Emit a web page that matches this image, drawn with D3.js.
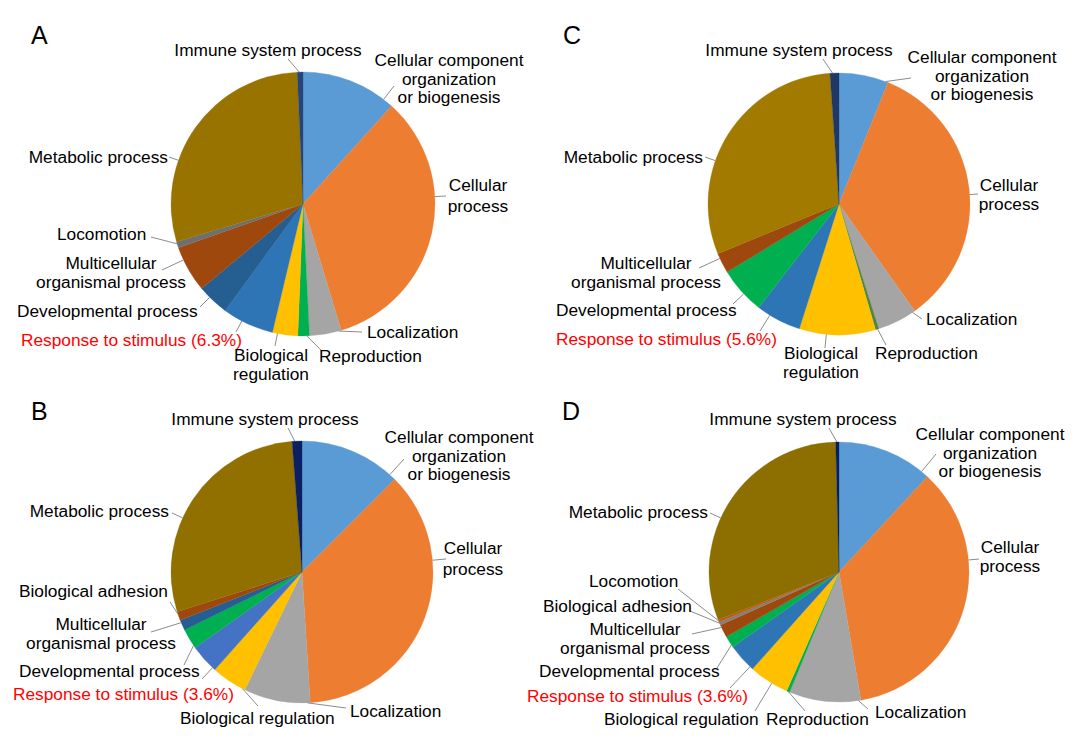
<!DOCTYPE html>
<html><head><meta charset="utf-8">
<script src="https://cdn.jsdelivr.net/npm/d3@7"></script>
<style>body{margin:0;background:#fff} text{font-family:"Liberation Sans",Arial,sans-serif}</style>
</head><body>
<svg id="chart" width="1081" height="739"></svg>
<script>
// ---------------- DATA ----------------
const categoriesA = ["Cellular component organization or biogenesis","Cellular process","Localization","Reproduction","Biological regulation","Response to stimulus","Developmental process","Multicellular organismal process","Locomotion","Metabolic process","Immune system process"];
const valuesA = [11.7, 33.6, 3.9, 1.4, 3.1, 6.3, 3.9, 5.7, 0.75, 28.9, 0.7];

const categoriesB = ["Cellular component organization or biogenesis","Cellular process","Localization","Biological regulation","Response to stimulus","Developmental process","Multicellular organismal process","Biological adhesion","Metabolic process","Immune system process"];
const valuesB = [12.5, 36.5, 8.2, 4.4, 3.6, 2.5, 1.3, 1.1, 28.7, 1.2];

const categoriesC = ["Cellular component organization or biogenesis","Cellular process","Localization","Reproduction","Biological regulation","Response to stimulus","Developmental process","Multicellular organismal process","Metabolic process","Immune system process"];
const valuesC = [6.1, 34.1, 4.9, 0.4, 9.4, 5.6, 5.8, 2.5, 30.1, 1.1];

const categoriesD = ["Cellular component organization or biogenesis","Cellular process","Localization","Reproduction","Biological regulation","Response to stimulus","Developmental process","Multicellular organismal process","Biological adhesion","Locomotion","Metabolic process","Immune system process"];
const valuesD = [11.9, 35.4, 8.9, 0.4, 5.0, 3.6, 1.5, 1.6, 0.4, 0.3, 30.6, 0.4];

const panelLetters = ["A","B","C","D"];

// ---------------- STYLES ----------------
const colorsA = ["#5B9BD5","#ED7D31","#A5A5A5","#00B050","#FFC000","#2E75B6","#255E91","#9E480E","#6F6F6F","#997300","#264478"];
const colorsB = ["#5B9BD5","#ED7D31","#A5A5A5","#FFC000","#4472C4","#00B050","#255E91","#9E480E","#917000","#0A2060"];
const colorsC = ["#5B9BD5","#ED7D31","#A5A5A5","#4E8542","#FFC000","#2E75B6","#00B050","#9E480E","#A37A00","#203864"];
const colorsD = ["#5B9BD5","#ED7D31","#A5A5A5","#00B050","#FFC000","#2E75B6","#00B050","#9E480E","#7F7F7F","#C55A11","#8D6E00","#002060"];

// ---------------- LAYOUT ----------------
// label: lines, x, y (first baseline), anchor, lh (line height), lx/ly leader start
const LH = 18.5;
const layoutA = {cx:303, cy:204, r:132, letter:{x:31, y:44}, labels:[
  {lines:["Cellular component","organization","or biogenesis"], x:449, y:66, a:"middle", lh:LH, lx:394, ly:86},
  {lines:["Cellular","process"], x:478, y:191, a:"middle", lh:21, lx:446, ly:196},
  {lines:["Localization"], x:367, y:338, a:"start", lx:362, ly:332},
  {lines:["Reproduction"], x:319, y:362, a:"start", lx:321, ly:350},
  {lines:["Biological","regulation"], x:271, y:361, a:"middle", lh:LH, lx:275, ly:346},
  {lines:["Response to stimulus (6.3%)"], x:21, y:346, a:"start", lx:236, ly:332, red:true},
  {lines:["Developmental process"], x:17, y:317, a:"start", lx:200, ly:307},
  {lines:["Multicellular","organismal process"], x:111, y:269, a:"middle", lh:LH, lx:162, ly:270},
  {lines:["Locomotion"], x:57, y:240, a:"start", lx:151, ly:237},
  {lines:["Metabolic process"], x:168, y:163, a:"end", lx:169, ly:157},
  {lines:["Immune system process"], x:268, y:56, a:"middle", lx:288, ly:59}
]};
const layoutB = {cx:302, cy:572, r:131, letter:{x:31, y:420}, labels:[
  {lines:["Cellular component","organization","or biogenesis"], x:459, y:443, a:"middle", lh:LH, lx:404, ly:459},
  {lines:["Cellular","process"], x:473, y:554, a:"middle", lh:21, lx:446, ly:559},
  {lines:["Localization"], x:350, y:717, a:"start", lx:346, ly:708},
  {lines:["Biological regulation"], x:180, y:724, a:"start", lx:258, ly:706},
  {lines:["Response to stimulus (3.6%)"], x:13, y:700, a:"start", lx:202, ly:679, red:true},
  {lines:["Developmental process"], x:19, y:677, a:"start", lx:184, ly:665},
  {lines:["Multicellular","organismal process"], x:101, y:630, a:"middle", lh:LH, lx:151, ly:632},
  {lines:["Biological adhesion"], x:19, y:597, a:"start", lx:170, ly:602},
  {lines:["Metabolic process"], x:169, y:517, a:"end", lx:172, ly:513},
  {lines:["Immune system process"], x:265, y:425, a:"middle", lx:288, ly:428}
]};
const layoutC = {cx:839, cy:204, r:131, letter:{x:563, y:44}, labels:[
  {lines:["Cellular component","organization","or biogenesis"], x:982, y:63, a:"middle", lh:LH, lx:911, ly:78},
  {lines:["Cellular","process"], x:1009, y:191, a:"middle", lh:LH, lx:978, ly:194},
  {lines:["Localization"], x:926, y:325, a:"start", lx:922, ly:319},
  {lines:["Reproduction"], x:875, y:359, a:"start", lx:886, ly:345},
  {lines:["Biological","regulation"], x:821, y:359, a:"middle", lh:LH, lx:825, ly:348},
  {lines:["Response to stimulus (5.6%)"], x:556, y:345, a:"start", lx:760, ly:331, red:true},
  {lines:["Developmental process"], x:556, y:316, a:"start", lx:733, ly:304},
  {lines:["Multicellular","organismal process"], x:646, y:269, a:"middle", lh:LH, lx:699, ly:268},
  {lines:["Metabolic process"], x:703, y:163, a:"end", lx:705, ly:157},
  {lines:["Immune system process"], x:799, y:56, a:"middle", lx:823, ly:59}
]};
const layoutD = {cx:839, cy:572, r:130, letter:{x:562, y:420}, labels:[
  {lines:["Cellular component","organization","or biogenesis"], x:990, y:440, a:"middle", lh:LH, lx:936, ly:454},
  {lines:["Cellular","process"], x:1010, y:553, a:"middle", lh:LH, lx:979, ly:559},
  {lines:["Localization"], x:875, y:718, a:"start", lx:868, ly:709},
  {lines:["Reproduction"], x:766, y:725, a:"start", lx:805, ly:711},
  {lines:["Biological regulation"], x:604, y:725, a:"start", lx:755, ly:711},
  {lines:["Response to stimulus (3.6%)"], x:527, y:702, a:"start", lx:730, ly:688, red:true},
  {lines:["Developmental process"], x:539, y:677, a:"start", lx:717, ly:668},
  {lines:["Multicellular","organismal process"], x:635, y:635, a:"middle", lh:LH, lx:692, ly:634},
  {lines:["Biological adhesion"], x:543, y:612, a:"start", lx:690, ly:611},
  {lines:["Locomotion"], x:589, y:587, a:"start", lx:678, ly:589},
  {lines:["Metabolic process"], x:708, y:518, a:"end", lx:710, ly:513},
  {lines:["Immune system process"], x:803, y:425, a:"middle", lx:829, ly:428}
]};

// ---------------- DRAW ----------------
const svg = d3.select("#chart");
svg.append("rect").attr("width",1081).attr("height",739).attr("fill","#fff");
const FONT = 17.3;
const TAU = Math.PI*2;

function drawPanel(letter, categories, values, colors, L) {
  const g = svg.append("g");
  const pie = d3.pie().sort(null).value(d => d.v);
  const data = categories.map((c,i)=>({c, v:values[i], col:colors[i]}));
  const arcs = pie(data);
  const arc = d3.arc().innerRadius(0).outerRadius(L.r);
  const pg = g.append("g").attr("transform",`translate(${L.cx},${L.cy})`);
  pg.selectAll("path").data(arcs).join("path")
    .attr("d", arc).attr("fill", d=>d.data.col)
    .attr("stroke", d=>d.data.col).attr("stroke-width",0.3);

  // leader lines
  arcs.forEach((a,i)=>{
    const lb = L.labels[i];
    let th = Math.atan2(lb.lx-L.cx, -(lb.ly-L.cy));
    if (th < 0) th += TAU;
    const span = a.endAngle - a.startAngle;
    const m = Math.min(span*0.35, 0.02);
    const s = a.startAngle + m, e = a.endAngle - m;
    const inRange = t => t >= s && t <= e;
    let t = th;
    if (!inRange(t) && !inRange(t+TAU) && !inRange(t-TAU)) {
      const dist = x => { let d = Math.abs(((th - x) % TAU + TAU) % TAU); return Math.min(d, TAU-d); };
      t = dist(s) < dist(e) ? s : e;
    } else if (inRange(t+TAU)) t += TAU; else if (inRange(t-TAU)) t -= TAU;
    const ex = L.cx + L.r*Math.sin(t), ey = L.cy - L.r*Math.cos(t);
    g.append("line").attr("x1",lb.lx).attr("y1",lb.ly).attr("x2",ex).attr("y2",ey)
      .attr("stroke","#8C8C8C").attr("stroke-width",1);
  });

  // labels
  L.labels.forEach(lb=>{
    const t = g.append("text").attr("x",lb.x).attr("y",lb.y)
      .attr("text-anchor",lb.a).attr("font-size",FONT)
      .attr("fill", lb.red ? "#FF0000" : "#000");
    lb.lines.forEach((ln,k)=>{
      t.append("tspan").attr("x",lb.x).attr("y", lb.y + k*(lb.lh||17)).text(ln);
    });
  });

  g.append("text").attr("x",L.letter.x).attr("y",L.letter.y)
    .attr("font-size",25).attr("fill","#000").text(letter);
}

drawPanel(panelLetters[0], categoriesA, valuesA, colorsA, layoutA);
drawPanel(panelLetters[1], categoriesB, valuesB, colorsB, layoutB);
drawPanel(panelLetters[2], categoriesC, valuesC, colorsC, layoutC);
drawPanel(panelLetters[3], categoriesD, valuesD, colorsD, layoutD);
</script>
</body></html>
